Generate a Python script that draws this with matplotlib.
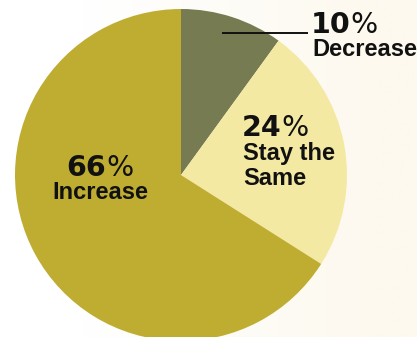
import numpy as np
import matplotlib
matplotlib.use("Agg")
import matplotlib.pyplot as plt
from matplotlib.colors import to_rgb

# Survey outcome shares (percent), drawn clockwise from 12 o'clock
categories = ["Decrease", "Stay the\nSame", "Increase"]
values = [10, 24, 66]
colors = ["#767b51", "#f3e9a3", "#bfad32"]

W, H = 417, 337
fig = plt.figure(figsize=(W / 100, H / 100), dpi=100)
ax = fig.add_axes([0, 0, 1, 1])
ax.set_xlim(0, W)
ax.set_ylim(0, H)
ax.set_aspect("equal")
ax.axis("off")

# soft cream wash towards the right edge
xs = np.linspace(0, 1, 400)
t = np.clip((xs - 0.2) / 0.7, 0, 1)
c0 = np.array(to_rgb("#ffffff"))
c1 = np.array(to_rgb("#fdf9ef"))
grad = c0[None, :] * (1 - t[:, None]) + c1[None, :] * t[:, None]
ax.imshow(grad[None, :, :], extent=[0, W, 0, H], aspect="auto", zorder=0)

cx, cy, r = 181, H - 175, 166
ax.pie(values, colors=colors, startangle=90, counterclock=False,
       center=(cx, cy), radius=r, frame=True,
       wedgeprops=dict(linewidth=0, antialiased=True))
ax.set_xlim(0, W)
ax.set_ylim(0, H)
ax.axis("off")

num_font = dict(family="DejaVu Sans", fontsize=20.5, color="#111111")
lab_font = dict(family="Liberation Sans", fontsize=17, fontweight="bold", color="#111111")


def pct_label(x, y, value, ha="left"):
    digits = ax.text(x, y, f"{value}", fontweight="bold", ha="left",
                     va="bottom", zorder=5, **num_font)
    pct = ax.annotate("%", xy=(1, 0), xycoords=digits, ha="left",
                      va="bottom", zorder=5, fontweight="normal", **num_font)
    if ha == "center":
        fig.canvas.draw()
        rend = fig.canvas.get_renderer()
        w = (digits.get_window_extent(rend).width
             + pct.get_window_extent(rend).width)
        digits.set_x(x - w / 2)
    return digits


# Decrease (leader line out to the right)
ax.plot([222, 308], [H - 33, H - 33], color="#111111", lw=1.4,
        solid_capstyle="butt", zorder=4)
pct_label(311, H - 39, values[0])
ax.text(312, H - 56, categories[0], ha="left", va="baseline", zorder=5, **lab_font)

# Stay the Same
pct_label(242, H - 142, values[1])
ax.text(243, H - 160, "Stay the", ha="left", va="baseline", zorder=5, **lab_font)
ax.text(243, H - 185, "Same", ha="left", va="baseline", zorder=5, **lab_font)

# Increase
pct_label(100, H - 182, values[2], ha="center")
ax.text(100, H - 199, categories[2], ha="center", va="baseline", zorder=5, **lab_font)

fig.savefig("out.png", dpi=100)
